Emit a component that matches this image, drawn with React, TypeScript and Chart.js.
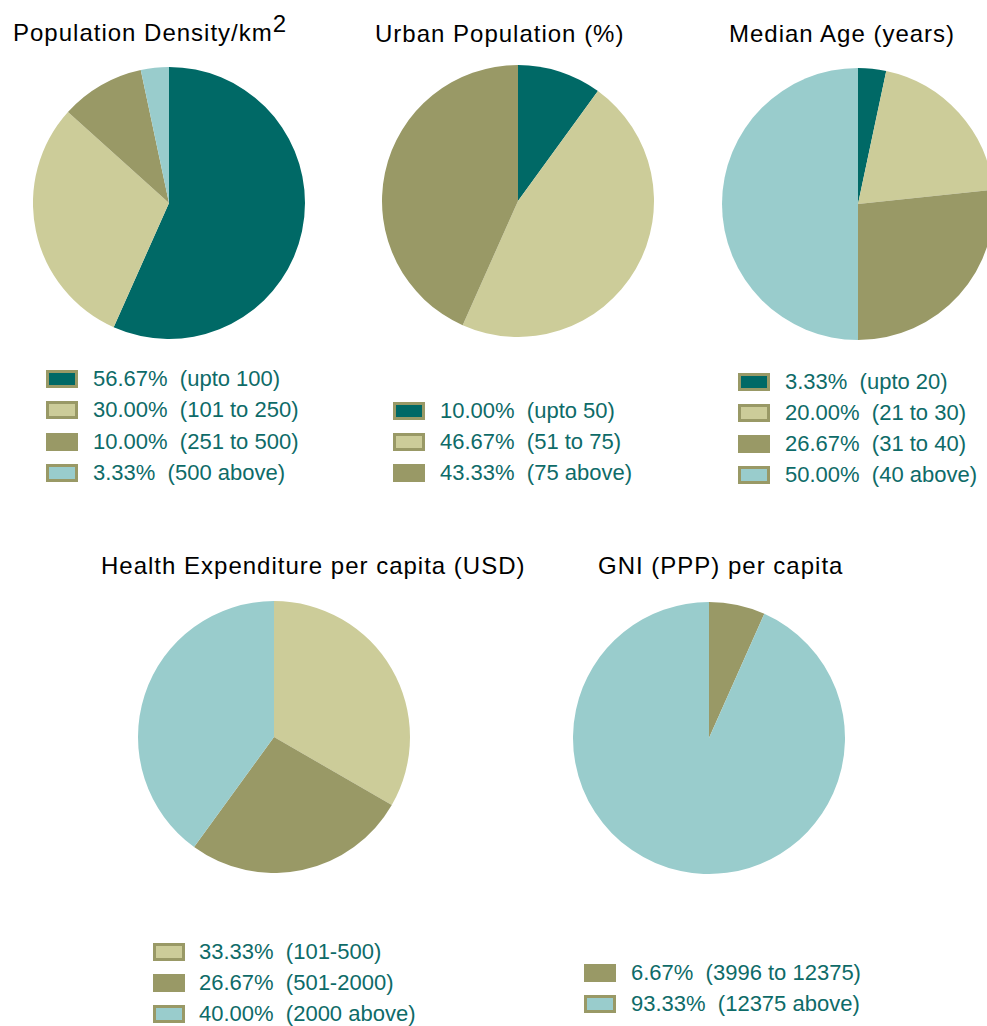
import React, { useEffect, useRef } from "react";
import { Chart, registerables } from "chart.js";

Chart.register(...registerables);

// ---- colours ----
const TEAL = "#006966";
const KHAKI = "#CCCC99";
const OLIVE = "#999966";
const CYAN = "#99CCCC";
const LEGEND_TEXT = "#0E6B68";

// ---- data ----
const densityTitle = "Population Density/km";
const densityLabels = ["(upto 100)", "(101 to 250)", "(251 to 500)", "(500 above)"];
const densityValues = [56.67, 30.0, 10.0, 3.33];
const densityColors = [TEAL, KHAKI, OLIVE, CYAN];

const urbanTitle = "Urban Population (%)";
const urbanLabels = ["(upto 50)", "(51 to 75)", "(75 above)"];
const urbanValues = [10.0, 46.67, 43.33];
const urbanColors = [TEAL, KHAKI, OLIVE];

const ageTitle = "Median Age (years)";
const ageLabels = ["(upto 20)", "(21 to 30)", "(31 to 40)", "(40 above)"];
const ageValues = [3.33, 20.0, 26.67, 50.0];
const ageColors = [TEAL, KHAKI, OLIVE, CYAN];

const healthTitle = "Health Expenditure per capita (USD)";
const healthLabels = ["(101-500)", "(501-2000)", "(2000 above)"];
const healthValues = [33.33, 26.67, 40.0];
const healthColors = [KHAKI, OLIVE, CYAN];

const gniTitle = "GNI (PPP) per capita";
const gniLabels = ["(3996 to 12375)", "(12375 above)"];
const gniValues = [6.67, 93.33];
const gniColors = [OLIVE, CYAN];

type Block = {
  title: string;
  sup?: string;
  labels: string[];
  values: number[];
  colors: string[];
  cx: number;
  cy: number;
  titleLeft: number;
  titleBaseline: number;
  boxX: number;
  textX: number;
  rowY0: number;
  rowStep: number;
};

const R = 136;

const blocks: Block[] = [
  { title: densityTitle, sup: "2", labels: densityLabels, values: densityValues, colors: densityColors,
    cx: 169, cy: 203, titleLeft: 13, titleBaseline: 41, boxX: 46, textX: 93, rowY0: 379, rowStep: 31.3 },
  { title: urbanTitle, labels: urbanLabels, values: urbanValues, colors: urbanColors,
    cx: 518, cy: 201, titleLeft: 375, titleBaseline: 42, boxX: 393, textX: 440, rowY0: 411, rowStep: 31 },
  { title: ageTitle, labels: ageLabels, values: ageValues, colors: ageColors,
    cx: 858, cy: 204, titleLeft: 729, titleBaseline: 42, boxX: 738, textX: 785, rowY0: 382, rowStep: 31 },
  { title: healthTitle, labels: healthLabels, values: healthValues, colors: healthColors,
    cx: 274, cy: 737, titleLeft: 101, titleBaseline: 574, boxX: 153, textX: 199, rowY0: 952, rowStep: 31 },
  { title: gniTitle, labels: gniLabels, values: gniValues, colors: gniColors,
    cx: 709, cy: 738, titleLeft: 598, titleBaseline: 574, boxX: 584, textX: 631, rowY0: 973, rowStep: 30.5 },
];

const FONT = '"Liberation Sans", Arial, Helvetica, sans-serif';

function PieChart({ b }: { b: Block }) {
  const ref = useRef<HTMLCanvasElement | null>(null);
  useEffect(() => {
    if (!ref.current) return;
    const chart = new Chart(ref.current, {
      type: "pie",
      data: {
        labels: b.labels,
        datasets: [
          {
            data: b.values,
            backgroundColor: b.colors,
            borderWidth: 0,
          },
        ],
      },
      options: {
        responsive: false,
        animation: false,
        layout: { padding: 0 },
        plugins: {
          legend: { display: false },
          title: { display: false },
          tooltip: { enabled: false },
        },
      },
    });
    return () => chart.destroy();
  }, [b]);
  return (
    <canvas
      ref={ref}
      width={2 * R}
      height={2 * R}
      style={{ position: "absolute", left: b.cx - R, top: b.cy - R, width: 2 * R, height: 2 * R }}
    />
  );
}

function Title({ b }: { b: Block }) {
  return (
    <div
      style={{
        position: "absolute",
        left: b.titleLeft,
        top: b.titleBaseline - 20.3,
        fontFamily: FONT,
        fontSize: 24,
        lineHeight: "24px",
        letterSpacing: "1px",
        color: "#000",
        whiteSpace: "pre",
      }}
    >
      {b.title}
      {b.sup ? <span style={{ position: "relative", top: -9 }}>{b.sup}</span> : null}
    </div>
  );
}

function Legend({ b }: { b: Block }) {
  return (
    <>
      {b.labels.map((lab, i) => {
        const cy = b.rowY0 + i * b.rowStep;
        return (
          <React.Fragment key={i}>
            <div
              style={{
                position: "absolute",
                left: b.boxX,
                top: cy - 9,
                width: 32,
                height: 18,
                boxSizing: "border-box",
                border: `3px solid ${OLIVE}`,
                background: b.colors[i],
              }}
            />
            <div
              style={{
                position: "absolute",
                left: b.textX,
                top: cy - 11,
                height: 22,
                lineHeight: "22px",
                fontFamily: FONT,
                fontSize: 22,
                color: LEGEND_TEXT,
                whiteSpace: "pre",
              }}
            >
              {`${b.values[i].toFixed(2)}%  ${lab}`}
            </div>
          </React.Fragment>
        );
      })}
    </>
  );
}

export default function App() {
  return (
    <div
      style={{
        position: "absolute",
        left: 0,
        top: 0,
        width: 987,
        height: 1026,
        overflow: "hidden",
        background: "#fff",
      }}
    >
      {blocks.map((b, i) => (
        <React.Fragment key={i}>
          <Title b={b} />
          <PieChart b={b} />
          <Legend b={b} />
        </React.Fragment>
      ))}
    </div>
  );
}
